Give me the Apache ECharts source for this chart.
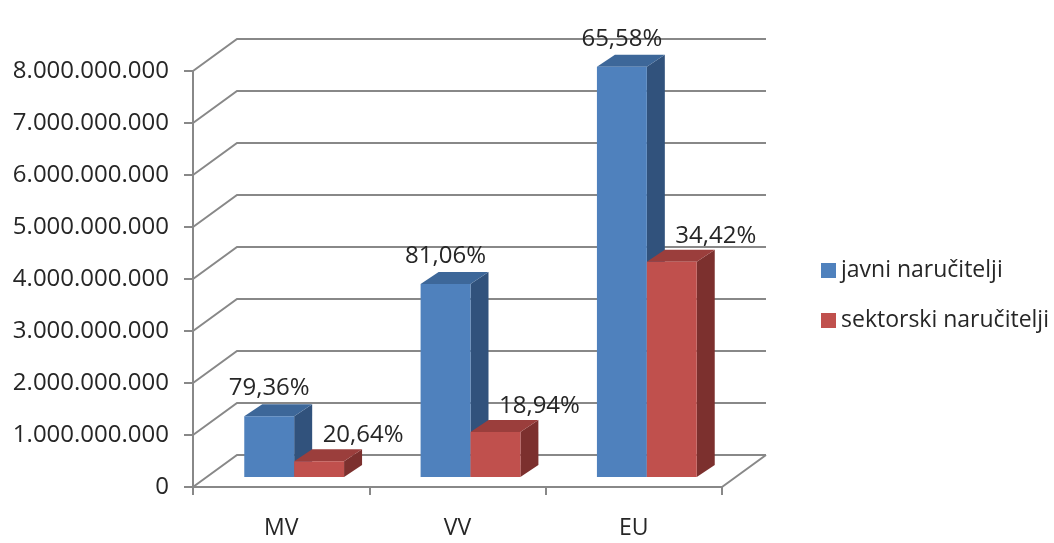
<!DOCTYPE html>
<html>
<head>
<meta charset="utf-8">
<script src="https://cdn.jsdelivr.net/npm/echarts@6/dist/echarts.min.js"></script>
<style>
  html, body { margin: 0; padding: 0; background: #fff; }
  #chart { width: 1054px; height: 543px; }
</style>
</head>
<body>
<div id="chart"></div>
<script>
// podaci
const categories = ["MV", "VV", "EU"];
const seriesNames = ["javni naručitelji", "sektorski naručitelji"];
const javni = [1170000000, 3710000000, 7890000000];
const sektorski = [304000000, 867000000, 4140000000];
const javniPct = ["79,36%", "81,06%", "65,58%"];
const sektorskiPct = ["20,64%", "18,94%", "34,42%"];
const yTicks = [0, 1000000000, 2000000000, 3000000000, 4000000000, 5000000000, 6000000000, 7000000000, 8000000000];

const FONT = "Open Sans";
const TEXT = "#262626";
const GRID = "#888888";

// 3D pomaci
const WALL_DX = 44, WALL_DY = -32;   // dubina zida
const BAR_OX = 13, BAR_OY = -10;     // pomak prednje strane stupca
const BAR_DX = 18, BAR_DY = -12;     // dubina stupca

const faces = [
  { front: "#4f81bd", top: "#3d6799", side: "#31527c" },
  { front: "#c0504d", top: "#9b3e3c", side: "#7c302e" }
];

const fmt = v => String(v).replace(/\B(?=(\d{3})+(?!\d))/g, ".");

const chart = echarts.init(document.getElementById("chart"));

function renderWall(params, api) {
  const cs = params.coordSys;
  const y = api.coord([0, api.value(1)])[1];
  const x0 = cs.x, x1 = cs.x + cs.width;
  const children = [{
    type: "polyline",
    shape: { points: [[x0, y], [x0 + WALL_DX, y + WALL_DY], [x1 + WALL_DX, y + WALL_DY]] },
    style: { stroke: GRID, lineWidth: 2, fill: null }
  }];
  if (api.value(1) === 0) {
    children.push({
      type: "line",
      shape: { x1: x1, y1: y, x2: x1 + WALL_DX, y2: y + WALL_DY },
      style: { stroke: GRID, lineWidth: 2 }
    });
  }
  return { type: "group", children: children };
}

function makeBarRenderer(s, pct) {
  return function (params, api) {
    const i = api.value(0);
    const v = api.value(1);
    const band = api.size([1, 0])[0];
    const bw = band * 0.283;
    const base = api.coord([i, 0]);
    const top = api.coord([i, v]);
    const x0 = base[0] + BAR_OX - bw + s * bw;
    const yb = base[1] + BAR_OY;
    const yt = top[1] + BAR_OY;
    const c = faces[s];
    return {
      type: "group",
      children: [
        {
          type: "polygon",
          shape: { points: [[x0 + bw, yt], [x0 + bw + BAR_DX, yt + BAR_DY], [x0 + bw + BAR_DX, yb + BAR_DY], [x0 + bw, yb]] },
          style: { fill: c.side }
        },
        {
          type: "polygon",
          shape: { points: [[x0, yt], [x0 + bw, yt], [x0 + bw + BAR_DX, yt + BAR_DY], [x0 + BAR_DX, yt + BAR_DY]] },
          style: { fill: c.top }
        },
        {
          type: "rect",
          shape: { x: x0, y: yt, width: bw, height: yb - yt },
          style: { fill: c.front }
        },
        {
          type: "text",
          x: x0 + bw / 2 + (s === 1 ? 44 : 0),
          y: yt - (s === 1 ? 26 : 28),
          style: {
            text: pct[i], fill: TEXT, font: "24px '" + FONT + "'",
            align: "center", verticalAlign: "middle"
          }
        }
      ]
    };
  };
}

const option = {
  animation: false,
  grid: { left: 193, right: 332, top: 71, bottom: 56 },
  legend: {
    orient: "vertical",
    left: 816,
    top: 254,
    itemWidth: 15,
    itemHeight: 15,
    itemGap: 27,
    icon: "rect",
    data: seriesNames,
    textStyle: { fontFamily: FONT, fontSize: 23, color: TEXT }
  },
  xAxis: {
    type: "category",
    data: categories,
    axisLine: { lineStyle: { color: GRID, width: 2 } },
    axisTick: { show: true, length: 8, lineStyle: { color: GRID, width: 2 } },
    axisLabel: { fontFamily: FONT, fontSize: 23, color: TEXT, margin: 30 },
    splitLine: { show: false }
  },
  yAxis: {
    type: "value",
    min: 0,
    max: 8000000000,
    interval: 1000000000,
    axisLine: { show: true, lineStyle: { color: GRID, width: 2 } },
    axisTick: { show: true, length: 9, lineStyle: { color: GRID, width: 2 } },
    axisLabel: { fontFamily: FONT, fontSize: 24, color: TEXT, margin: 24, formatter: fmt },
    splitLine: { show: false }
  },
  series: [
    {
      name: "zid",
      type: "custom",
      z: 1,
      silent: true,
      renderItem: renderWall,
      encode: { x: 0, y: 1 },
      data: yTicks.map(v => [0, v])
    },
    {
      name: seriesNames[0],
      type: "custom",
      z: 2,
      itemStyle: { color: faces[0].front },
      renderItem: makeBarRenderer(0, javniPct),
      encode: { x: 0, y: 1 },
      data: javni.map((v, i) => [i, v])
    },
    {
      name: seriesNames[1],
      type: "custom",
      z: 2,
      itemStyle: { color: faces[1].front },
      renderItem: makeBarRenderer(1, sektorskiPct),
      encode: { x: 0, y: 1 },
      data: sektorski.map((v, i) => [i, v])
    }
  ]
};

chart.setOption(option);
window.addEventListener("resize", () => chart.resize());
</script>
</body>
</html>
